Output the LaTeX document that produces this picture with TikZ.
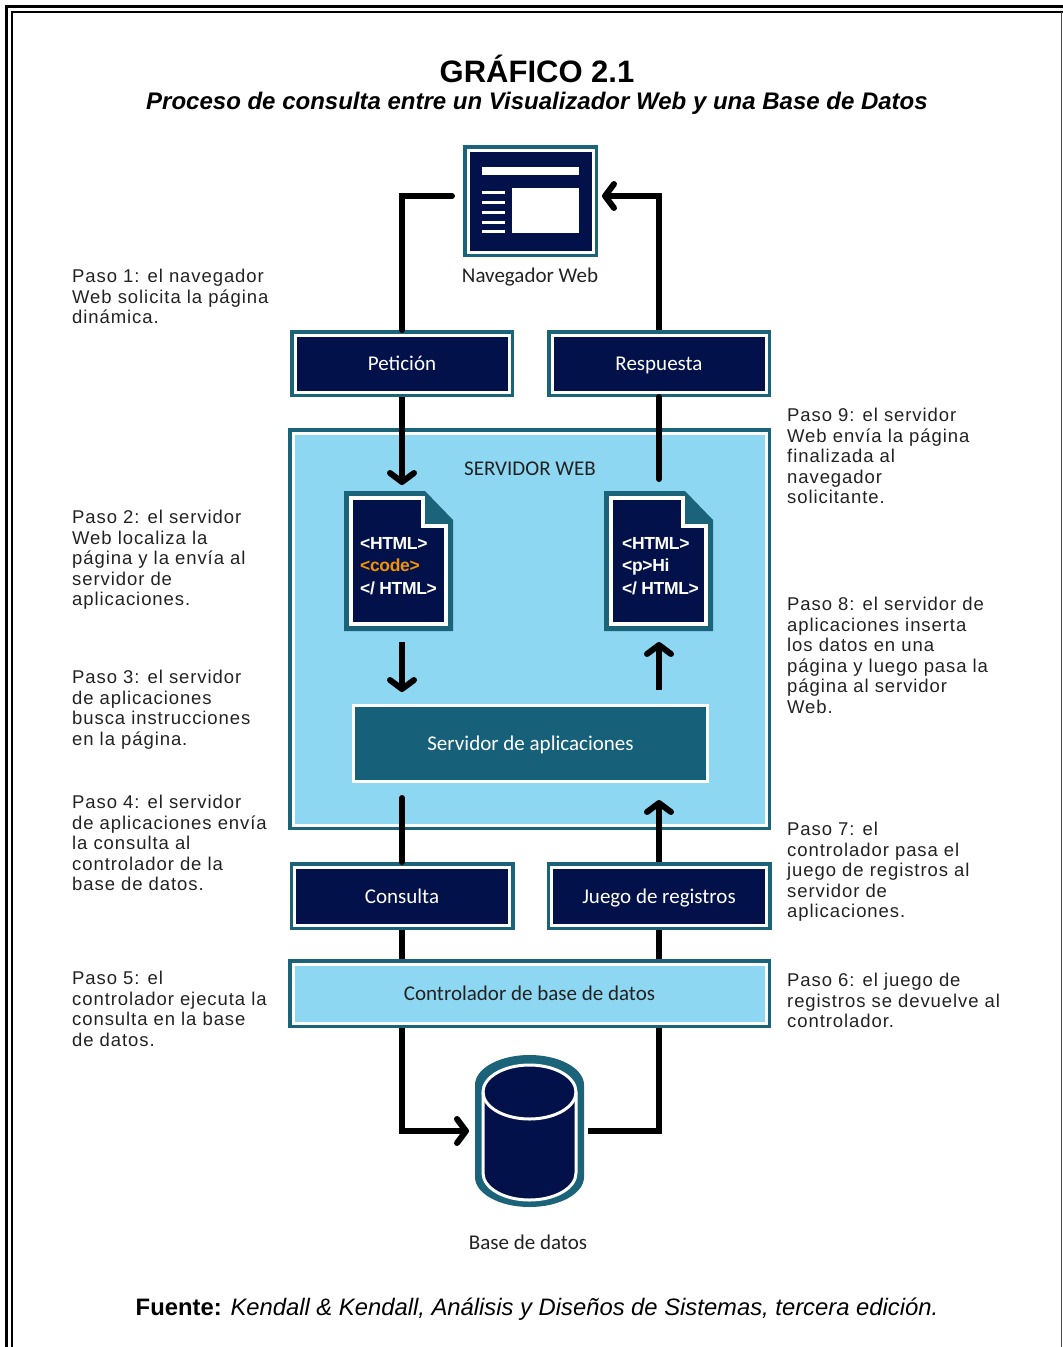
\documentclass[tikz,border=0pt]{standalone}
\usepackage{fontspec}
\setmainfont{Liberation Sans}
\newfontfamily\lblf{Carlito}
\newfontfamily\stepf[LetterSpace=5]{Liberation Sans}
\newfontfamily\codef[LetterSpace=-2]{Liberation Sans}
\usetikzlibrary{arrows.meta,calc}
\definecolor{navy}{RGB}{3,17,75}
\definecolor{tealb}{RGB}{26,99,120}
\definecolor{appteal}{RGB}{23,96,122}
\definecolor{lblue}{RGB}{141,215,242}
\definecolor{codeor}{RGB}{243,146,0}
\definecolor{txt}{RGB}{34,34,34}
\newcommand\docshape[1]{%
 \fill[tealb] (#1.north west) -- ($(#1.north east)+(-28,0)$) -- ($(#1.north east)+(0,29)$) -- (#1.south east) -- (#1.south west) -- cycle;
 \filldraw[fill=navy, draw=white, line width=4pt] ($(#1.north west)+(7,7)$) -- ($(#1.north east)+(-30.5,7)$) -- ($(#1.north east)+(-30.5,34.5)$) -- ($(#1.north east)+(-7,34.5)$) -- ($(#1.south east)+(-7,-7)$) -- ($(#1.south west)+(7,-7)$) -- cycle;
}
\tikzset{
 lbl/.style={font=\lblf\fontsize{21}{21}\selectfont},
 box/.style={rectangle, inner sep=0pt, outer sep=5pt, line width=3pt, draw=white,
   preaction={draw=tealb, line width=10pt}, lbl, text height=16pt, text depth=2pt},
 navybox/.style={box, fill=navy, text=white},
 bluebox/.style={box, fill=lblue, text=txt},
 appbox/.style={rectangle, inner sep=0pt, outer sep=1.5pt, line width=3pt, draw=white, fill=appteal, text=white, lbl, text height=16pt, text depth=2pt},
 ghost/.style={rectangle, inner sep=0pt, outer sep=0pt},
 stepn/.style={anchor=north west, align=left, inner sep=0pt, font=\stepf\fontsize{18.5}{20.5}\selectfont, text=txt},
 codetxt/.style={anchor=west, align=left, inner sep=0pt, text=white, font=\codef\bfseries\fontsize{17.5}{22.5}\selectfont},
 conn/.style={line width=6pt, black},
 arr/.style={conn, -{Straight Barb[length=9pt,width=24pt,round]}},
}
\begin{document}
\begin{tikzpicture}[x=1pt,y=-1pt]
\useasboundingbox (0,0) rectangle (1063,1347);
% frame
\draw[line width=3pt] (6.5,1352) -- (6.5,6) -- (1068,6);
\draw[line width=1.8pt] (11.7,1352) -- (11.7,11.7) -- (1068,11.7);
\draw[line width=1.2pt, black!70] (1061.5,11.7) -- (1061.5,1352);

% titles
\node[anchor=base, inner sep=0pt] (ttl) at (537,82) {\fontsize{31}{31}\selectfont\bfseries GRÁFICO 2.1};
\node[anchor=base, inner sep=0pt] (sub) at (537,109) {\fontsize{24}{24}\selectfont\bfseries\itshape Proceso de consulta entre un Visualizador Web y una Base de Datos};
\node[anchor=base, inner sep=0pt] (src) at (537,1315) {\fontsize{23.8}{24}\selectfont\textbf{Fuente:} \textit{Kendall \& Kendall, Análisis y Diseños de Sistemas, tercera edición.}};

% boxes
\node[navybox, minimum width=125pt, minimum height=102pt] (brw) at (530.5,201) {};
\fill[white] (482,167) rectangle (579,175);
\foreach \yy in {192,202,212,222,231} \fill[white] (482,\yy-1.5) rectangle (505,\yy+1.5);
\fill[white] (512,188) rectangle (579,233);
\node[lbl, text=txt] (brwl) at (530,277) {Navegador Web};

\node[navybox, minimum width=214pt, minimum height=57pt] (pet) at (402,363.5) {Petición};
\node[navybox, minimum width=214pt, minimum height=57pt] (res) at (659,363.5) {Respuesta};

\node[bluebox, minimum width=473pt, minimum height=392pt] (web) at (529.5,629) {};
\node[lbl, text=txt] (webl) at (530,469) {SERVIDOR WEB};

\node[ghost, minimum width=109pt, minimum height=140pt] (d1) at (398.5,561) {};
\node[ghost, minimum width=109pt, minimum height=140pt] (d2) at (658.5,561) {};
\docshape{d1}
\docshape{d2}
\node[codetxt] (d1t) at ($(d1.west)+(16,5)$) {<HTML>\\\textcolor{codeor}{<code>}\\</ HTML>};
\node[codetxt] (d2t) at ($(d2.west)+(18,5)$) {<HTML>\\<p>Hi\\</ HTML>};

\node[appbox, minimum width=354pt, minimum height=76pt] (app) at (530.5,743.5) {Servidor de aplicaciones};

\node[navybox, minimum width=215pt, minimum height=58pt] (con) at (402,896) {Consulta};
\node[navybox, minimum width=215pt, minimum height=58pt] (jue) at (659,896) {Juego de registros};

\node[bluebox, minimum width=473pt, minimum height=59pt] (ctl) at (529.5,993.5) {Controlador de base de datos};

\node[ghost, minimum width=109pt, minimum height=152pt] (db) at (529.5,1131) {};
\fill[tealb] (475,1085) arc[start angle=180, end angle=360, x radius=54.5, y radius=30] -- (584,1177) arc[start angle=0, end angle=180, x radius=54.5, y radius=30] -- cycle;
\filldraw[fill=navy, draw=white, line width=3pt] (483,1092) arc[start angle=180, end angle=360, x radius=46.5, y radius=27] -- (576,1173) arc[start angle=0, end angle=180, x radius=46.5, y radius=27] -- cycle;
\draw[white, line width=3pt] (483,1092) arc[start angle=180, end angle=0, x radius=46.5, y radius=27];
\node[lbl, text=txt] (dbl) at (528,1242) {Base de datos};

% connectors
\draw[conn, line cap=round, shorten >=11pt] (pet.north) |- ([yshift=5pt]brw.west);
\draw[arr, shorten >=4pt] (res.north) |- ([yshift=5pt]brw.east);
\draw[arr, shorten >=6pt] (pet.south) -- (d1.north -| pet.south);
\draw[conn, line cap=round, shorten <=12pt] (d2.north -| res.south) -- (res.south);
\draw[arr, shorten <=11pt, shorten >=12pt] (d1.south -| pet.south) -- (app.north -| pet.south);
\draw[arr, shorten <=14pt, shorten >=11pt] (app.north -| res.south) -- (d2.south -| res.south);
\draw[conn, line cap=round, shorten <=15pt] (app.south -| con.north) -- (con.north);
\draw[arr, shorten >=17pt] (jue.north) -- (app.south -| jue.north);
\draw[conn] (con.south) -- (ctl.north -| con.south);
\draw[conn] (jue.south) -- (ctl.north -| jue.south);
\draw[arr, shorten >=6pt] (ctl.south -| con.south) |- (db.west);
\draw[conn, shorten <=4pt] (db.east) -| (ctl.south -| jue.south);

% step texts
\node[stepn] (s1) at (72,269) {Paso 1: el navegador\\Web solicita la página\\dinámica.};
\node[stepn] (s2) at (72,510) {Paso 2: el servidor\\Web localiza la\\página y la envía al\\servidor de\\aplicaciones.};
\node[stepn] (s3) at (72,670) {Paso 3: el servidor\\de aplicaciones\\busca instrucciones\\en la página.};
\node[stepn] (s4) at (72,795) {Paso 4: el servidor\\de aplicaciones envía\\la consulta al\\controlador de la\\base de datos.};
\node[stepn] (s5) at (72,971) {Paso 5: el\\controlador ejecuta la\\consulta en la base\\de datos.};
\node[stepn] (s9) at (787,408) {Paso 9: el servidor\\Web envía la página\\finalizada al\\navegador\\solicitante.};
\node[stepn] (s8) at (787,597) {Paso 8: el servidor de\\aplicaciones inserta\\los datos en una\\página y luego pasa la\\página al servidor\\Web.};
\node[stepn] (s7) at (787,822) {Paso 7: el\\controlador pasa el\\juego de registros al\\servidor de\\aplicaciones.};
\node[stepn] (s6) at (787,973) {Paso 6: el juego de\\registros se devuelve al\\controlador.};
\end{tikzpicture}
\end{document}
